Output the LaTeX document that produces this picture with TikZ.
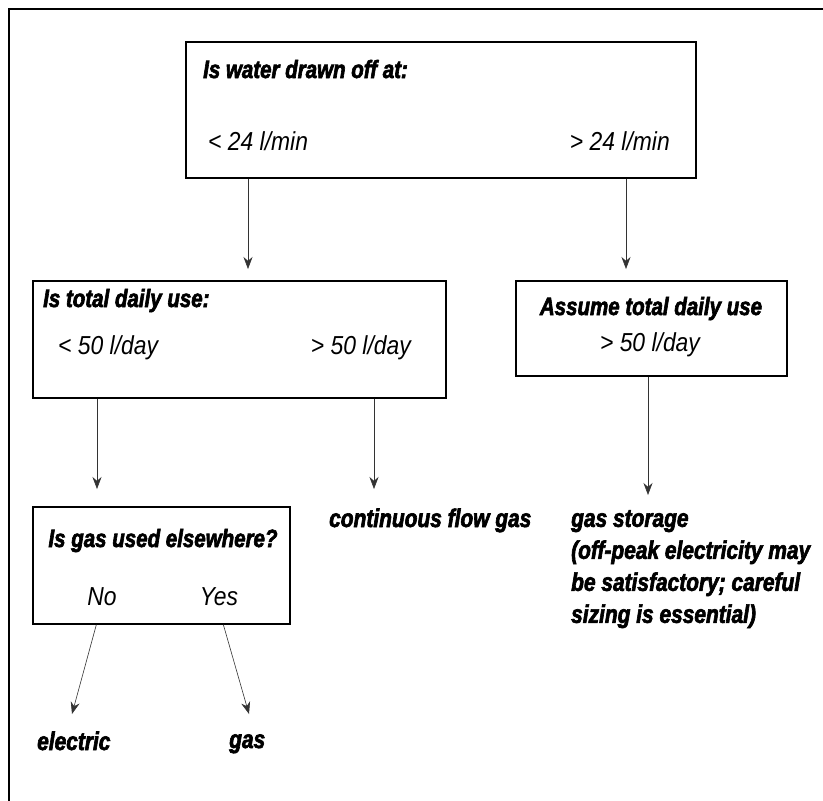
\documentclass[tikz,border=0pt]{standalone}
\usepackage{fontspec}
\setmainfont{Liberation Sans}
\newfontfamily\hfont{Liberation Sans}[FakeStretch=0.82, BoldItalicFeatures={FakeBold=2.5}]
\newfontfamily\vfont{Liberation Sans}[FakeStretch=0.88]
\usetikzlibrary{arrows.meta}
\begin{document}
\begin{tikzpicture}[x=1pt,y=-1pt,
  frame/.style={line width=1.3pt},
  qbox/.style={draw, line width=1.3pt, rectangle, inner sep=0pt},
  head/.style={inner sep=0pt, font=\hfont\bfseries\itshape\fontsize{25}{30}\selectfont},
  val/.style={inner sep=0pt, font=\vfont\itshape\fontsize{26}{30}\selectfont},
  res/.style={inner sep=0pt, font=\hfont\bfseries\itshape\fontsize{25.5}{32}\selectfont, align=left},
  arr/.style={line width=0.6pt, draw=black!80, -{Stealth[length=12pt,width=9pt]}}]
\useasboundingbox (0,0) rectangle (823,801);
\fill[white] (0,0) rectangle (823,801);
% outer frame (top and left only visible)
\coordinate (ftl) at (9,9);
\coordinate (ftr) at (823,9);
\coordinate (fbl) at (9,801);
\draw[frame] (ftr) -- (ftl) -- (fbl);
% boxes
\node[qbox, minimum width=510pt, minimum height=136pt] (b1) at (441,110) {};
\node[qbox, minimum width=413pt, minimum height=117pt] (b2) at (239.5,339.5) {};
\node[qbox, minimum width=271pt, minimum height=95pt] (b3) at (651.5,328.5) {};
\node[qbox, minimum width=257pt, minimum height=117pt] (b4) at (161.5,565.5) {};
% box texts
\node[head, anchor=base west] (t1) at (203,78) {Is water drawn off at:};
\node[val, anchor=base west] (t1a) at (208,150) {< 24 l/min};
\node[val, anchor=base east] (t1b) at (670,150) {> 24 l/min};
\node[head, anchor=base west] (t2) at (43,307) {Is total daily use:};
\node[val, anchor=base west] (t2a) at (58,354) {< 50 l/day};
\node[val, anchor=base east] (t2b) at (411,354) {> 50 l/day};
\node[head, anchor=base] (t3) at (651,315) {Assume total daily use};
\node[val, anchor=base] (t3a) at (650,351) {> 50 l/day};
\node[head, anchor=base] (t4) at (163,547) {Is gas used elsewhere?};
\node[val, anchor=base] (t4a) at (102,605) {No};
\node[val, anchor=base] (t4b) at (219,605) {Yes};
% results
\node[res, anchor=base west] (r1) at (329,527) {continuous flow gas};
\node[res, anchor=north west] (r2) at (571,510) {gas storage\\(off-peak electricity may\\be satisfactory; careful\\sizing is essential)};
\node[res, anchor=base west] (r3) at (37,750) {electric};
\node[res, anchor=base west] (r4) at (229,748) {gas};
% connectors
\coordinate (e1) at (248,269);
\coordinate (e2) at (626,269);
\coordinate (e3) at (97,489);
\coordinate (e4) at (374,489);
\coordinate (e5) at (648,495);
\coordinate (e6) at (72,714);
\coordinate (e7) at (249,714);
\draw[arr] (b1.south -| e1) -- (e1);
\draw[arr] (b1.south -| e2) -- (e2);
\draw[arr] (b2.south -| e3) -- (e3);
\draw[arr] (b2.south -| e4) -- (e4);
\draw[arr] (b3.south -| e5) -- (e5);
\draw[arr] ([xshift=64pt]b4.south west) -- (e6);
\draw[arr] ([xshift=191pt]b4.south west) -- (e7);
\end{tikzpicture}
\end{document}
